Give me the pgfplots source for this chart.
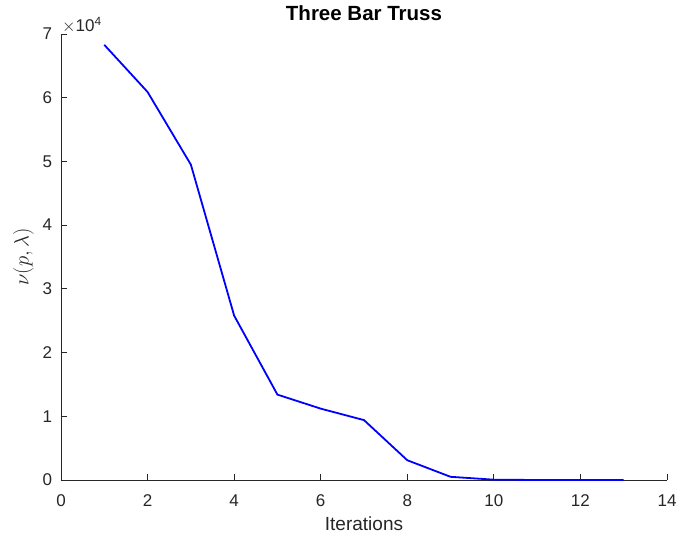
\documentclass[border=0pt]{standalone}
\usepackage{fontspec}
\setmainfont{Liberation Sans}
\usepackage{pgfplots}
\pgfplotsset{compat=1.18}
\definecolor{axgray}{HTML}{262626}

\begin{document}
\begin{tikzpicture}
\useasboundingbox (-61pt,-60pt) rectangle (620pt,480pt);
\begin{axis}[
  at={(0pt,0pt)}, anchor=south west,
  scale only axis, width=606pt, height=446pt,
  xmin=0, xmax=14, ymin=0, ymax=70000,
  xtick={0,2,...,14},
  ytick={0,10000,20000,30000,40000,50000,60000,70000},
  yticklabels={0,1,2,3,4,5,6,7},
  axis x line=bottom, axis y line=left,
  axis line style={-, axgray, line width=0.8pt},
  tick align=inside, major tick length=6pt,
  tick style={axgray, line width=0.8pt},
  /pgf/number format/assume math mode=true,
  tick label style={text=axgray, font=\fontsize{17}{20}\selectfont},
  x tick label style={anchor=base, inner sep=0pt, yshift=-26.7pt},
  y tick label style={anchor=east, inner sep=0pt, xshift=-8.7pt},
  scaled y ticks=false,
  title={\bfseries Three Bar Truss},
  title style={at={(axis description cs:0.5,1)}, anchor=base, inner sep=0pt,
    yshift=7pt, font=\fontsize{20.5}{24}\selectfont},
  xlabel={Iterations},
  xlabel style={at={(axis description cs:0.5,0)}, anchor=base, inner sep=0pt,
    yshift=-51pt, text=axgray, font=\fontsize{19}{22}\selectfont},
  ylabel={$\nu(p,\lambda)$},
  ylabel style={at={(axis description cs:-0.062,0.5)}, anchor=center,
    inner sep=0pt, text=axgray, font=\fontsize{20}{23}\selectfont},
  clip=false,
]
\addplot[blue, line width=1.8pt, no markers] coordinates {
  (1,68300) (2,60900) (3,49500) (4,25800) (5,13400) (6,11200) (7,9400)
  (8,3100) (9,500) (10,50) (11,0) (12,0) (13,0)
};
\node[anchor=base west, inner sep=0pt, xshift=1pt, yshift=2.3pt, text=axgray,
  font=\fontsize{17}{20}\selectfont] at (rel axis cs:0,1)
  {$\times$10\textsuperscript{4}};
\end{axis}
\end{tikzpicture}
\end{document}
